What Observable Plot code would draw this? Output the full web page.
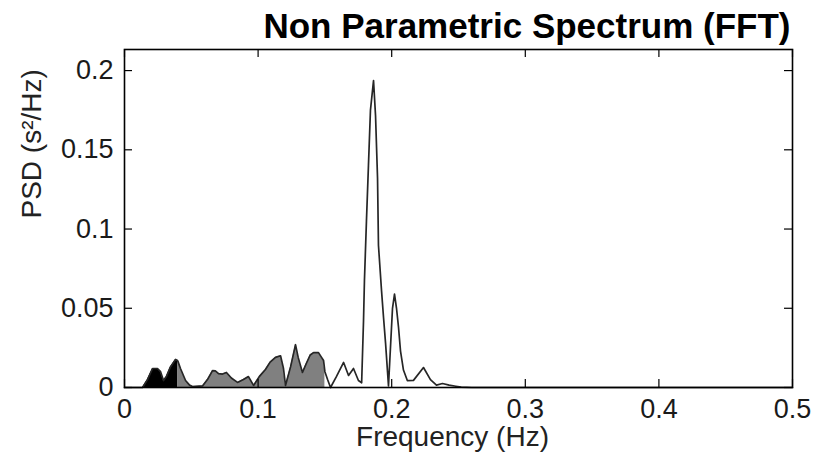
<!DOCTYPE html>
<html>
<head>
<meta charset="utf-8">
<script src="https://cdn.jsdelivr.net/npm/d3@7"></script>
<script src="https://cdn.jsdelivr.net/npm/@observablehq/plot@0.6"></script>
<style>
  html, body { margin: 0; padding: 0; background: #fff; }
</style>
</head>
<body>
<div id="chart"></div>
<script>
const titleText = "Non Parametric Spectrum (FFT)";
const xLabel = "Frequency (Hz)";
const yLabel = "PSD (s²/Hz)";
const xTicks = [0, 0.1, 0.2, 0.3, 0.4, 0.5];
const yTicks = [0, 0.05, 0.1, 0.15, 0.2];

const freq = [0, 0.0135, 0.0172, 0.021, 0.0247, 0.027, 0.0292, 0.0314, 0.0344, 0.0382, 0.0397, 0.04,
  0.0419, 0.0457, 0.0487, 0.0509, 0.0584, 0.0621, 0.0659, 0.068, 0.0704, 0.0734, 0.0763, 0.08,
  0.0846, 0.089, 0.0928, 0.0966, 0.101, 0.1055, 0.109, 0.113, 0.1168, 0.119, 0.1205, 0.1243,
  0.128, 0.130, 0.1332, 0.136, 0.139, 0.1415, 0.1452, 0.1475, 0.149, 0.15,
  0.152, 0.1542, 0.1587, 0.164, 0.1677, 0.1714, 0.1751, 0.1775, 0.1789, 0.1796, 0.1811, 0.1826,
  0.1841, 0.1864, 0.1879, 0.1894, 0.1901, 0.1924, 0.1939, 0.1954, 0.1976, 0.2006, 0.2021, 0.2036,
  0.2051, 0.2066, 0.2088, 0.2117, 0.2163, 0.2238, 0.229, 0.2335, 0.238, 0.243, 0.248, 0.252, 0.26, 0.5];
const psd = [0, 0, 0.005, 0.012, 0.012, 0.010, 0.0044, 0.007, 0.013, 0.0177, 0.017, 0.0165,
  0.012, 0.0044, 0.0015, 0.0006, 0.001, 0.005, 0.0107, 0.0105, 0.0088, 0.0085, 0.0095, 0.006,
  0.0032, 0.005, 0.0069, 0.0013, 0.007, 0.0114, 0.016, 0.019, 0.020, 0.012, 0.0013, 0.013,
  0.027, 0.019, 0.0095, 0.015, 0.0205, 0.022, 0.022, 0.019, 0.017, 0.010,
  0.005, 0, 0.007, 0.0158, 0.0076, 0.012, 0.0044, 0.003, 0.042, 0.0675, 0.105, 0.14,
  0.175, 0.1937, 0.1716, 0.132, 0.0896, 0.061, 0.044, 0.028, 0.001, 0.050, 0.059, 0.050,
  0.038, 0.023, 0.011, 0.0044, 0.0045, 0.0126, 0.005, 0.0015, 0.0025, 0.0015, 0.0008, 0.0002, 0, 0];

const bandNames = ["VLF", "LF"];
const bandLo = [0, 0.04];
const bandHi = [0.04, 0.15];
const bandFill = ["#000000", "#808080"];

const rows = freq.map((f, i) => ({f, p: psd[i]}));

const W = 817, H = 468;
const mL = 124, mR = 25, mT = 49, mB = 81;
const pw = W - mL - mR, ph = H - mT - mB;
const tick = 8;

const bandMarks = bandNames.map((name, i) =>
  Plot.areaY(rows.filter(d => d.f >= bandLo[i] && d.f <= bandHi[i]),
    {x: "f", y: "p", fill: bandFill[i], curve: "linear"}));

const chart = Plot.plot({
  width: W, height: H,
  marginLeft: mL, marginRight: mR, marginTop: mT, marginBottom: mB,
  style: {fontFamily: "'Liberation Sans', Arial, sans-serif", fontSize: "27px", color: "#1a1a1a", background: "#fff"},
  x: {domain: [0, 0.5]},
  y: {domain: [0, 0.2133]},
  marks: [
    ...bandMarks,
    Plot.line(rows, {x: "f", y: "p", stroke: "#262626", strokeWidth: 1.7}),
    Plot.tickX(xTicks, {x: d => d, insetTop: ph - tick, stroke: "#000", strokeWidth: 1.2}),
    Plot.tickX(xTicks, {x: d => d, insetBottom: ph - tick, stroke: "#000", strokeWidth: 1.2}),
    Plot.tickY(yTicks, {y: d => d, insetRight: pw - tick, stroke: "#000", strokeWidth: 1.2}),
    Plot.tickY(yTicks, {y: d => d, insetLeft: pw - tick, stroke: "#000", strokeWidth: 1.2}),
    Plot.axisX({ticks: xTicks, tickSize: 0, tickPadding: 11, fontSize: 27, label: null, tickFormat: d => String(d)}),
    Plot.axisY({ticks: yTicks, tickSize: 0, tickPadding: 11, fontSize: 27, label: null, tickFormat: d => String(d)}),
    Plot.frame({stroke: "#000", strokeWidth: 1.6}),
    Plot.text([titleText], {frameAnchor: "top-right", lineAnchor: "middle", textAnchor: "end", dx: -2, dy: -23,
      fontSize: 35, fontWeight: "bold", fill: "#000"}),
    Plot.text([xLabel], {frameAnchor: "bottom", lineAnchor: "middle", dx: -6, dy: 50, fontSize: 28, fill: "#222"}),
    Plot.text([yLabel], {frameAnchor: "left", lineAnchor: "middle", rotate: -90, dx: -92, fontSize: 28, fill: "#222"})
  ]
});
document.getElementById("chart").appendChild(chart);
</script>
</body>
</html>
